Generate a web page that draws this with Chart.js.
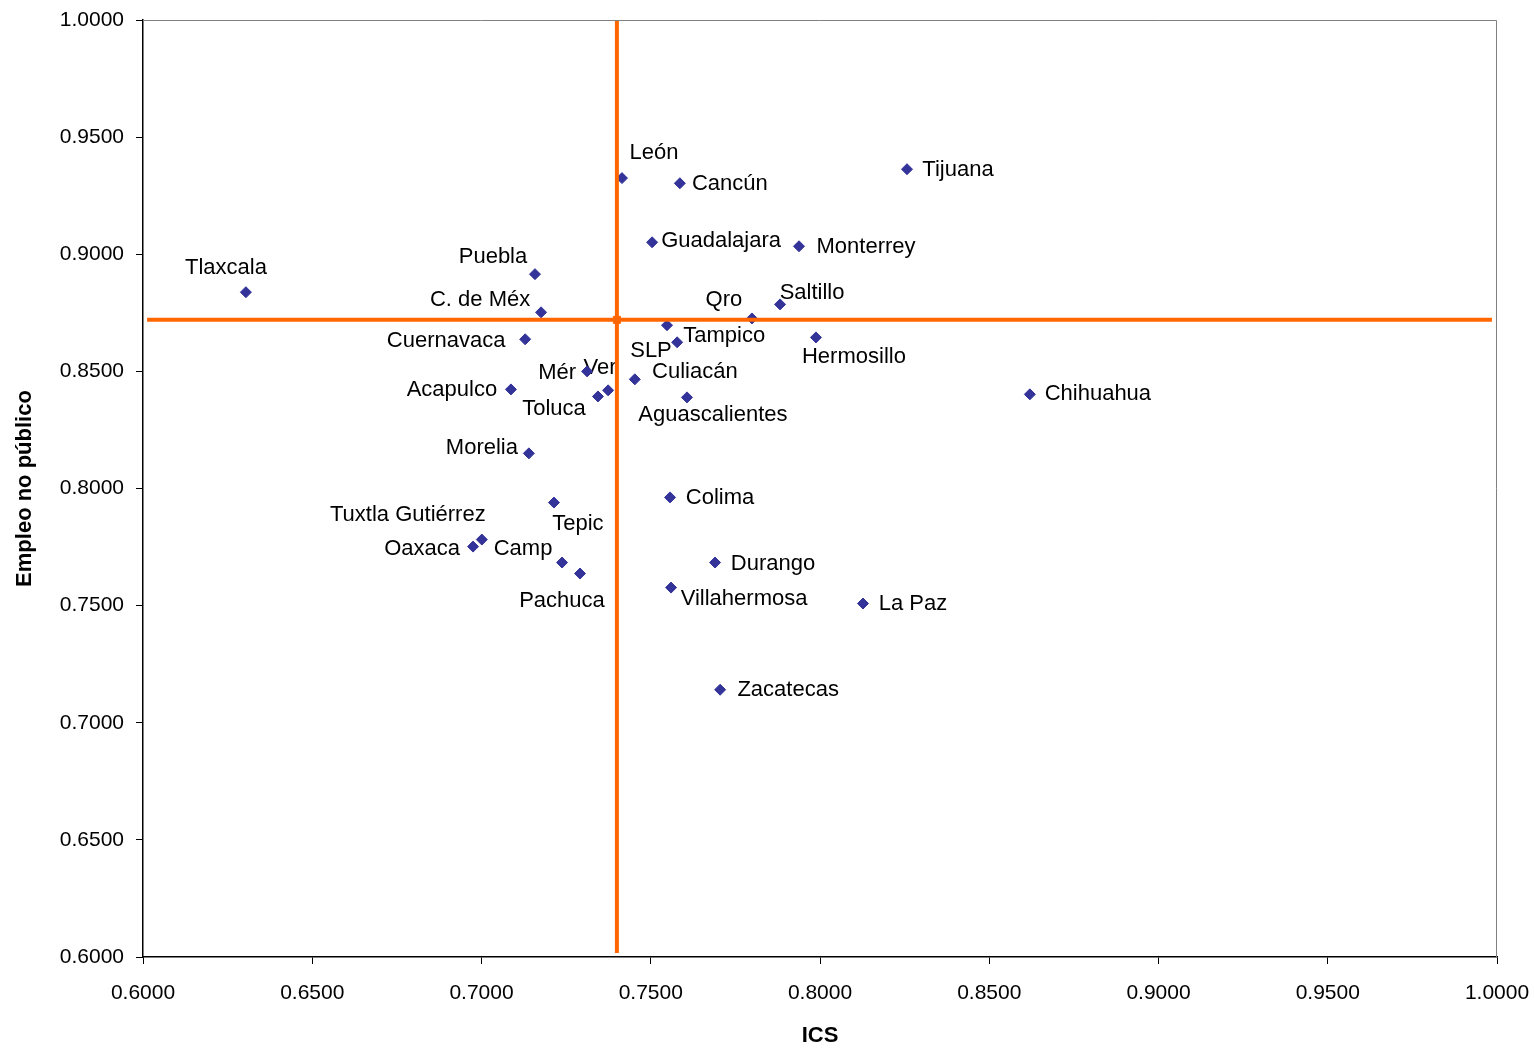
<!DOCTYPE html>
<html>
<head>
<meta charset="utf-8">
<script src="https://cdn.jsdelivr.net/npm/chart.js@4"></script>
<style>
  body { margin: 0; background: #fff; }
</style>
</head>
<body>
<canvas id="myChart" width="1534" height="1048"></canvas>
<script>
const cities = ['Tlaxcala', 'Puebla', 'C. de Méx', 'Cuernavaca', 'Acapulco', 'Mér', 'Ver', 'Toluca',
  'Morelia', 'Tepic', 'Tuxtla Gutiérrez', 'Oaxaca', 'Camp', 'Pachuca', 'León', 'Cancún',
  'Guadalajara', 'Monterrey', 'Tijuana', 'Saltillo', 'Qro', 'Tampico', 'SLP', 'Hermosillo',
  'Culiacán', 'Aguascalientes', 'Chihuahua', 'Colima', 'Durango', 'Villahermosa', 'La Paz', 'Zacatecas']

const ics = [0.6304, 0.7158, 0.7176, 0.7129, 0.7087, 0.7312, 0.7374, 0.7344,
  0.7140, 0.7214, 0.7001, 0.6975, 0.7238, 0.7291, 0.7415, 0.7586,
  0.7504, 0.7938, 0.8257, 0.7882, 0.7799, 0.7578, 0.7548, 0.7988,
  0.7453, 0.7607, 0.8620, 0.7557, 0.7690, 0.7560, 0.8127, 0.7705]

const empleo = [0.8838, 0.8915, 0.8752, 0.8637, 0.8423, 0.8500, 0.8419, 0.8393,
  0.8150, 0.7940, 0.7782, 0.7752, 0.7684, 0.7637, 0.9325, 0.9303,
  0.9051, 0.9034, 0.9363, 0.8786, 0.8726, 0.8624, 0.8697, 0.8645,
  0.8466, 0.8389, 0.8402, 0.7962, 0.7684, 0.7577, 0.7509, 0.7141]

// label placement (pixels from the point to the label centre)
const labelDx = [-20, -42, -61, -79, -59, -30, -8, -44,
  -47, 24, -74, -51, -39, -18, 32, 50,
  69, 67, 51, 32, -28, 47, -16, 38,
  60, 26, 68, 50, 58, 73, 50, 68]
const labelDy = [-24, -17, -12, 2, 1, 2, -22, 12,
  -5, 21, -25, 2, -14, 27, -25, 1,
  -1, 1, 1, -11, -18, -6, 26, 20,
  -7, 18, 0, 1, 1, 11, 0, 0]

// reference lines (mean values)
const refX = 0.74
const refY = 0.872
const vLineY = [0.6017, 1.0]
const hLineX = [0.6012, 0.9985]

const tickFont = { family: 'Liberation Sans, Arial', size: 21 }

let points = ics.map((v, i) => ({ x: v, y: empleo[i] }))

const pointLabels = {
  id: 'pointLabels',
  beforeDatasetsDraw(chart) {
    const ctx = chart.ctx
    const meta = chart.getDatasetMeta(0)
    ctx.save()
    ctx.font = '22px "Liberation Sans", Arial'
    ctx.fillStyle = '#000'
    ctx.textAlign = 'center'
    ctx.textBaseline = 'middle'
    meta.data.forEach((pt, i) => {
      ctx.fillText(cities[i], pt.x + labelDx[i], pt.y + labelDy[i])
    })
    ctx.restore()
  },
  afterDraw(chart) {
    const { ctx, chartArea } = chart
    ctx.save()
    ctx.strokeStyle = '#808080'
    ctx.lineWidth = 1
    ctx.beginPath()
    ctx.moveTo(chartArea.left, chartArea.top + 0.5)
    ctx.lineTo(chartArea.right - 0.5, chartArea.top + 0.5)
    ctx.lineTo(chartArea.right - 0.5, chartArea.bottom)
    ctx.stroke()
    ctx.restore()
  },
}

let config = {
  type: 'scatter',
  data: {
    datasets: [
      {
        label: 'Ciudades',
        data: points,
        pointStyle: 'rectRot',
        pointRadius: 5.5,
        backgroundColor: '#333399',
        borderColor: '#333399',
        borderWidth: 1,
        order: 2,
      },
      {
        label: 'vertical',
        data: [{ x: refX, y: vLineY[0] }, { x: refX, y: vLineY[1] }],
        showLine: true,
        borderColor: '#ff6600',
        borderWidth: 4,
        pointRadius: 0,
        order: 1,
      },
      {
        label: 'horizontal',
        data: [{ x: hLineX[0], y: refY }, { x: hLineX[1], y: refY }],
        showLine: true,
        borderColor: '#ff6600',
        borderWidth: 4,
        pointRadius: 0,
        order: 1,
      },
      {
        label: 'media',
        data: [{ x: refX, y: refY }],
        pointStyle: 'rect',
        pointRadius: 5,
        backgroundColor: '#ff6600',
        borderColor: '#ff6600',
        order: 0,
      },
    ],
  },
  options: {
    responsive: false,
    animation: false,
    devicePixelRatio: 1,
    layout: { padding: { top: 20, right: 37, left: 0, bottom: 0 } },
    plugins: {
      legend: { display: false },
      tooltip: { enabled: false },
    },
    scales: {
      x: {
        type: 'linear',
        min: 0.6,
        max: 1.0,
        afterFit(scale) {
          scale.height = 91
          scale.paddingLeft = 0
          scale.paddingRight = 0
        },
        ticks: {
          stepSize: 0.05,
          color: '#000',
          font: tickFont,
          padding: 17,
          maxRotation: 0,
          callback: (v) => v.toFixed(4),
        },
        grid: {
          drawOnChartArea: false,
          color: '#000',
          tickLength: 7,
        },
        border: { color: '#000', width: 1.5 },
        title: {
          display: true,
          text: 'ICS',
          color: '#000',
          font: { family: 'Liberation Sans, Arial', size: 22, weight: 'bold', lineHeight: 1 },
          padding: { top: 0, bottom: 1 },
        },
      },
      y: {
        type: 'linear',
        min: 0.6,
        max: 1.0,
        afterFit(scale) {
          scale.width = 143
          scale.paddingTop = 0
          scale.paddingBottom = 0
        },
        ticks: {
          stepSize: 0.05,
          color: '#000',
          font: tickFont,
          padding: 12,
          callback: (v) => v.toFixed(4),
        },
        grid: {
          drawOnChartArea: false,
          color: '#000',
          tickLength: 7,
        },
        border: { color: '#000', width: 1.5 },
        title: {
          display: true,
          text: 'Empleo no público',
          color: '#000',
          font: { family: 'Liberation Sans, Arial', size: 22, weight: 'bold', lineHeight: 1 },
          padding: { top: 14, bottom: 0 },
        },
      },
    },
  },
  plugins: [pointLabels],
}

let chart = new Chart(document.getElementById('myChart'), config)
</script>
</body>
</html>
